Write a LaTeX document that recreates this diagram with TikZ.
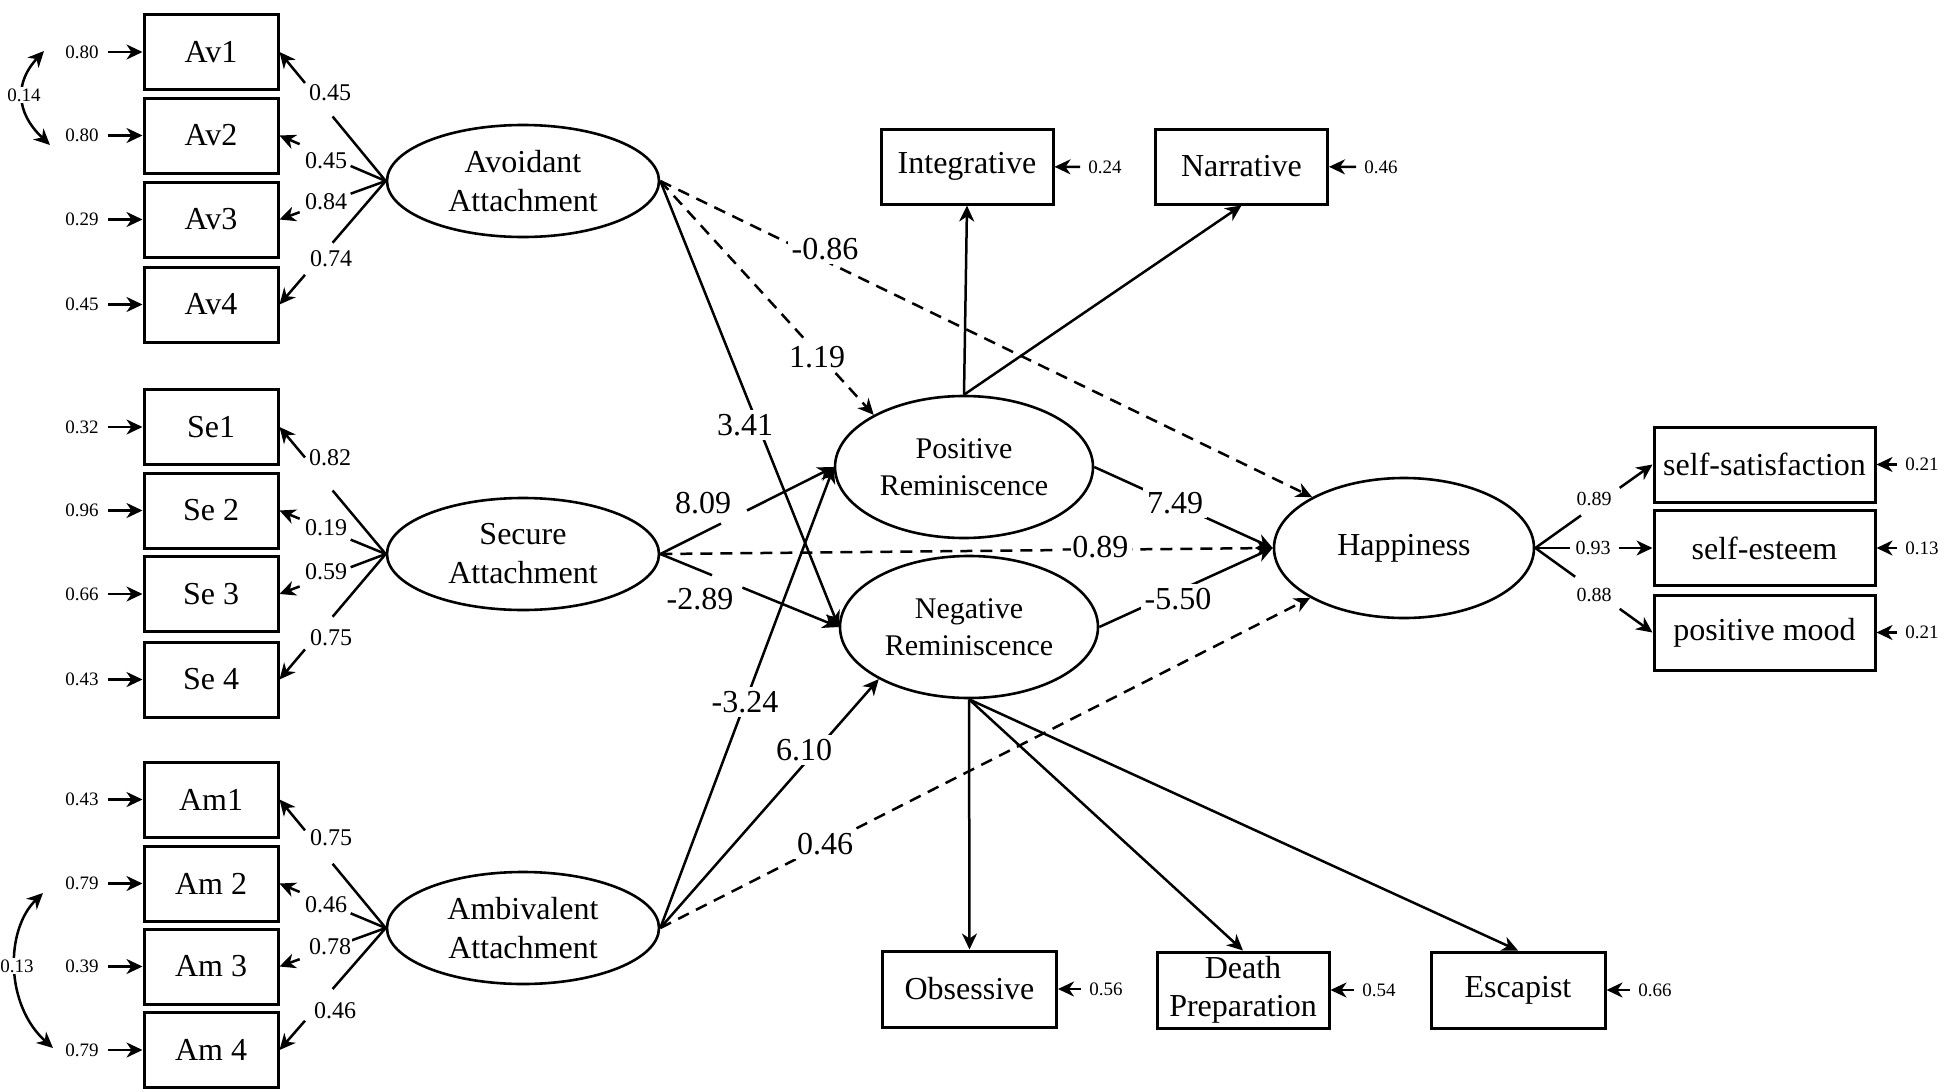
\documentclass[tikz,border=0pt]{standalone}
\usepackage{fontspec}
\setmainfont{Liberation Serif}
\usetikzlibrary{shapes.geometric,arrows.meta,calc}
\newcommand{\gapline}[5][]{\draw[->,#1] (#2) -- ($(#2)!#4!(#3)$) ($(#2)!#5!(#3)$) -- (#3);}
\begin{document}
\begin{tikzpicture}[x=1pt,y=-1pt,line width=2.5pt,
  >={Stealth[length=16pt,width=15pt,inset=5pt]},
  obsbox/.style={draw, rectangle, line width=3pt, minimum height=75pt, inner sep=0pt, font=\fontsize{32}{38}\selectfont, align=center},
  latent/.style={draw, ellipse, line width=2.6pt, inner sep=0pt, align=center},
  elab/.style={inner sep=0pt, font=\fontsize{19}{19}\selectfont},
  llab/.style={fill=white, inner sep=1pt, font=\fontsize{24}{24}\selectfont},
  hlab/.style={fill=white, inner sep=1pt, font=\fontsize{20}{20}\selectfont},
  plab/.style={fill=white, inner sep=4pt, font=\fontsize{32}{32}\selectfont},
  dsh/.style={dash pattern=on 12pt off 8pt},
]
\useasboundingbox[fill=white] (0,0) rectangle (1952,1092);

% ---- observed indicators, left
\node[obsbox, minimum width=134pt] (av1) at (211,52) {Av1};
\node[obsbox, minimum width=134pt] (av2) at (211,135.5) {Av2};
\node[obsbox, minimum width=134pt] (av3) at (211,219.5) {Av3};
\node[obsbox, minimum width=134pt] (av4) at (211,304.5) {Av4};
\node[obsbox, minimum width=134pt] (se1) at (211,427) {Se1};
\node[obsbox, minimum width=134pt] (se2) at (211,510.5) {Se 2};
\node[obsbox, minimum width=134pt] (se3) at (211,594) {Se 3};
\node[obsbox, minimum width=134pt] (se4) at (211,679.5) {Se 4};
\node[obsbox, minimum width=134pt] (am1) at (211,799.5) {Am1};
\node[obsbox, minimum width=134pt] (am2) at (211,883.5) {Am 2};
\node[obsbox, minimum width=134pt] (am3) at (211,966.5) {Am 3};
\node[obsbox, minimum width=134pt] (am4) at (211,1050) {Am 4};

% ---- latent variables
\node[latent, minimum width=272pt, minimum height=112pt, font=\fontsize{32}{39}\selectfont] (avo) at (523,181) {Avoidant\\Attachment};
\node[latent, minimum width=272pt, minimum height=112pt, font=\fontsize{32}{39}\selectfont] (sec) at (523,554) {Secure\\Attachment};
\node[latent, minimum width=272pt, minimum height=112pt, font=\fontsize{32}{39}\selectfont] (amb) at (523,928) {Ambivalent\\Attachment};
\node[latent, minimum width=258pt, minimum height=142pt, font=\fontsize{30}{37}\selectfont] (pos) at (964,467) {Positive\\Reminiscence};
\node[latent, minimum width=258pt, minimum height=142pt, font=\fontsize{30}{37}\selectfont] (neg) at (969,627) {Negative\\Reminiscence};
\node[latent, minimum width=260pt, minimum height=140pt, font=\fontsize{32}{38}\selectfont] (hap) at (1404,548) {Happiness};

% ---- other indicators
\node[obsbox, minimum width=172pt] (int) at (967,166.5) {Integrative};
\node[obsbox, minimum width=172pt] (nar) at (1241.5,166.5) {Narrative};
\node[obsbox, minimum width=174pt, minimum height=76pt] (obsv) at (969.5,989) {Obsessive};
\node[obsbox, minimum width=172pt, minimum height=76pt] (dp) at (1243,990) {Death\\Preparation};
\node[obsbox, minimum width=174pt, minimum height=76pt] (esc) at (1518,990) {Escapist};
\node[obsbox, minimum width=221pt] (ss) at (1764.5,464.5) {self-satisfaction};
\node[obsbox, minimum width=221pt] (sest) at (1764.5,548) {self-esteem};
\node[obsbox, minimum width=221pt] (pm) at (1764.5,632.5) {positive mood};

% ---- error terms, left
\node[elab] (eav1) at (82,52) {0.80};
\node[elab] (eav2) at (82,135.5) {0.80};
\node[elab] (eav3) at (82,219.5) {0.29};
\node[elab] (eav4) at (82,304.5) {0.45};
\node[elab] (ese1) at (82,427) {0.32};
\node[elab] (ese2) at (82,510.5) {0.96};
\node[elab] (ese3) at (82,594) {0.66};
\node[elab] (ese4) at (82,679.5) {0.43};
\node[elab] (eam1) at (82,799.5) {0.43};
\node[elab] (eam2) at (82,883.5) {0.79};
\node[elab] (eam3) at (82,966.5) {0.39};
\node[elab] (eam4) at (82,1050) {0.79};
\foreach \e/\b in {eav1/av1,eav2/av2,eav3/av3,eav4/av4,ese1/se1,ese2/se2,ese3/se3,ese4/se4,eam1/am1,eam2/am2,eam3/am3,eam4/am4}
  \draw[->, shorten <=8pt] (\e) -- (\b);

% ---- error terms, right side
\node[elab] (eint) at (1105,167) {0.24};
\node[elab] (enar) at (1381,167) {0.46};
\node[elab] (eobs) at (1106,989) {0.56};
\node[elab] (edp) at (1379,990) {0.54};
\node[elab] (eesc) at (1655,990) {0.66};
\node[elab] (ess) at (1922,464.5) {0.21};
\node[elab] (esest) at (1922,548) {0.13};
\node[elab] (epm) at (1922,632.5) {0.21};
\foreach \e/\b in {eint/int,enar/nar,eobs/obsv,edp/dp,eesc/esc,ess/ss,esest/sest,epm/pm}
  \draw[->, shorten <=7pt] (\e) -- (\b);

% ---- covariances
\coordinate (cv1a) at (44,51);
\coordinate (cv1b) at (50,145);
\draw[<->] (cv1a) .. controls (15,82) and (15,112) .. (cv1b);
\node[elab, fill=white, inner sep=2pt] (cv1) at (24,95) {0.14};
\coordinate (cv2a) at (43,893);
\coordinate (cv2b) at (53,1048);
\draw[<->] (cv2a) .. controls (5,930) and (5,1005) .. (cv2b);
\node[elab, fill=white, inner sep=2pt] (cv2) at (17,966) {0.13};

% ---- loadings
\gapline{avo.west}{av1.east}{0.5}{0.76}
\gapline{avo.west}{av2.east}{0.33}{0.81}
\gapline{avo.west}{av3.east}{0.33}{0.81}
\gapline{avo.west}{av4.east}{0.5}{0.76}
\gapline{sec.west}{se1.east}{0.5}{0.76}
\gapline{sec.west}{se2.east}{0.33}{0.81}
\gapline{sec.west}{se3.east}{0.33}{0.81}
\gapline{sec.west}{se4.east}{0.5}{0.76}
\gapline{amb.west}{am1.east}{0.5}{0.76}
\gapline{amb.west}{am2.east}{0.33}{0.81}
\gapline{amb.west}{am3.east}{0.33}{0.81}
\gapline{amb.west}{am4.east}{0.5}{0.76}
\node[llab] (lav1) at (330,93) {0.45};
\node[llab] (lav2) at (326,161) {0.45};
\node[llab] (lav3) at (326,202) {0.84};
\node[llab] (lav4) at (331,259) {0.74};
\node[llab] (lse1) at (330,458) {0.82};
\node[llab] (lse2) at (326,528) {0.19};
\node[llab] (lse3) at (326,572) {0.59};
\node[llab] (lse4) at (331,638) {0.75};
\node[llab] (lam1) at (331,838) {0.75};
\node[llab] (lam2) at (326,905) {0.46};
\node[llab] (lam3) at (330,947) {0.78};
\node[llab] (lam4) at (335,1011) {0.46};

% ---- structural paths
\draw[->, dsh] (avo.east) -- (pos.150);
\draw[->, dsh] (avo.east) -- (hap.151);
\draw[->] (avo.east) -- (neg.west);
\gapline{sec.east}{pos.west}{0.35}{0.50}
\gapline{sec.east}{neg.west}{0.29}{0.46}
\draw[->, dsh] (sec.east) -- (hap.west);
\draw[->] (amb.east) -- (pos.west);
\draw[->] (amb.east) -- (neg.210);
\draw[->, dsh] (amb.east) -- (hap.208);
\draw[->] (pos.east) -- (hap.west);
\draw[->] (neg.east) -- (hap.west);
\draw[->] (pos.north) -- (int.south);
\draw[->] (pos.north) -- (nar.south);
\draw[->] (neg.south) -- (obsv.north);
\draw[->] (neg.south) -- (dp.north);
\draw[->] (neg.south) -- (esc.north);

\node[plab] (p119) at (817,357) {1.19};
\node[plab] (p086) at (825,249) {-0.86};
\node[plab] (p341) at (745,425) {3.41};
\node[plab] (p809) at (703,503) {8.09};
\node[plab] (p289) at (700,599) {-2.89};
\node[plab] (p089) at (1095,547) {-0.89};
\node[plab] (p324) at (745,702) {-3.24};
\node[plab] (p610) at (804,750) {6.10};
\node[plab] (p046) at (825,844) {0.46};
\node[plab] (p749) at (1175,503) {7.49};
\node[plab] (p550) at (1178,599) {-5.50};

% ---- happiness indicators
\gapline{hap.east}{ss.west}{0.39}{0.72}
\gapline{hap.east}{sest.west}{0.30}{0.71}
\gapline{hap.east}{pm.west}{0.34}{0.72}
\node[hlab] (h89) at (1594,499) {0.89};
\node[hlab] (h93) at (1593,548) {0.93};
\node[hlab] (h88) at (1594,595) {0.88};
\end{tikzpicture}
\end{document}
